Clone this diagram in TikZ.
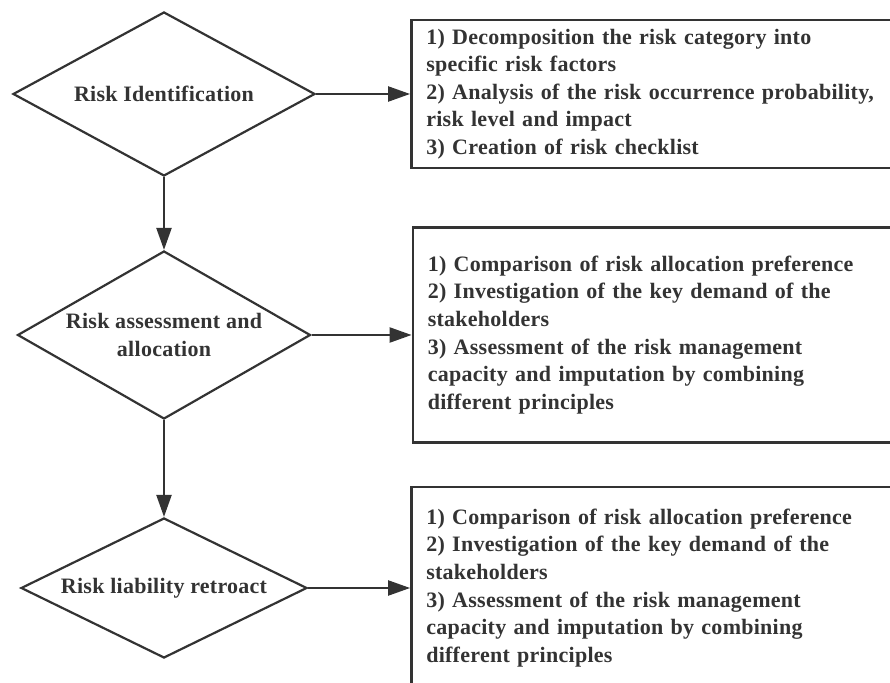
\documentclass[tikz,border=0pt]{standalone}
\usepackage{fontspec}
\setmainfont{Liberation Serif}[LetterSpace=1.2]
\usetikzlibrary{shapes.geometric,positioning,arrows.meta}
\tikzset{>={Triangle[length=11pt,width=7.5pt]}}
\usepackage{xcolor}
\definecolor{inkgray}{HTML}{333333}

\begin{document}
\begin{tikzpicture}[x=0.5pt,y=-0.5pt,
    every node/.style={font=\bfseries\fontsize{11}{13.8}\selectfont,text=inkgray},
    decision/.style={diamond,draw=inkgray,line width=1.1pt,aspect=2,inner sep=0pt,align=center},
    taskbox/.style={draw=inkgray,line width=1.2pt,text width=230pt,inner xsep=7.5pt,align=left},
    flow/.style={->,draw=inkgray,line width=1.1pt}]

    %frame: the boxes run off the right and bottom edge
    \useasboundingbox (0,0) rectangle (890,683);
    \clip (0,0) rectangle (890,683);

    %decisions on the left
    \node[decision,minimum width=151pt,minimum height=82pt] (ident) at (164,94) {Risk Identification};
    \node[decision,minimum width=146.5pt,minimum height=84pt] (assess) at (164,335) {Risk assessment and\\allocation};
    \node[decision,minimum width=143pt,minimum height=70pt] (retro) at (164,588) {Risk liability retroact};

    %task lists on the right
    \node[taskbox,minimum height=74pt,right=47pt of ident] (identtasks) {%
        1) Decomposition the risk category into\\
        specific risk factors\\
        2) Analysis of the risk occurrence probability,\\
        risk level and impact\\
        3) Creation of risk checklist};
    \node[taskbox,minimum height=107.5pt,right=50pt of assess] (assesstasks) {%
        1) Comparison of risk allocation preference\\
        2) Investigation of the key demand of the\\
        stakeholders\\
        3) Assessment of the risk management\\
        capacity and imputation by combining\\
        different principles};
    \node[taskbox,minimum height=101pt,right=51pt of retro] (retrotasks) {%
        1) Comparison of risk allocation preference\\
        2) Investigation of the key demand of the\\
        stakeholders\\
        3) Assessment of the risk management\\
        capacity and imputation by combining\\
        different principles};

    %connectors
    \draw[flow] (ident) -- (assess);
    \draw[flow] (assess) -- (retro);
    \draw[flow] (ident) -- (identtasks);
    \draw[flow] (assess) -- (assesstasks);
    \draw[flow] (retro) -- (retrotasks);

\end{tikzpicture}
\end{document}
